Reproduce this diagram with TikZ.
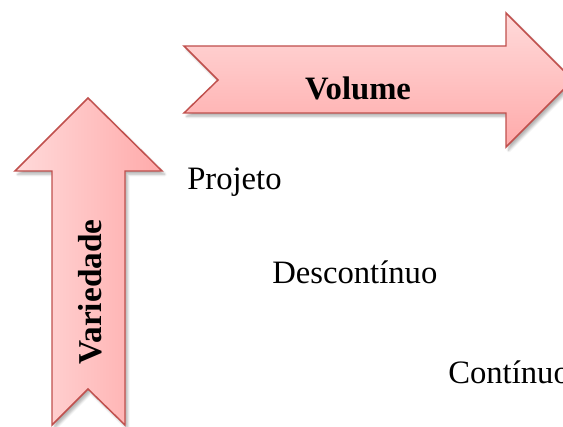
\documentclass[tikz,border=0pt]{standalone}
\usepackage{fontspec}
\setmainfont{Liberation Serif}
\usetikzlibrary{shadows.blur}
\definecolor{arrowedge}{HTML}{C0504D}
\definecolor{arrowlight}{HTML}{FFDADA}
\definecolor{arrowdark}{HTML}{FFAAAA}
\begin{document}
\begin{tikzpicture}[x=0.75pt,y=-0.75pt,
  bigarrow/.style={draw=arrowedge,line width=1.1pt,line join=miter,
    blur shadow={shadow xshift=2pt,shadow yshift=-2.5pt,shadow blur steps=6,shadow opacity=30}},
  label/.style={font=\fontsize{24.5}{28}\selectfont,inner sep=0pt}]
\useasboundingbox (0,0) rectangle (563,427);
\begin{scope}
\clip (0,0) rectangle (563,427);
% horizontal arrow (volume)
\path[bigarrow,top color=arrowlight,bottom color=arrowdark]
  (184,46) -- (506,46) -- (506,13) -- (573,80) -- (506,147) -- (506,113)
  -- (184,113) -- (218,80) -- cycle;
% vertical arrow (variety)
\path[bigarrow,left color=arrowlight,right color=arrowdark]
  (88,98) -- (162,171) -- (125,171) -- (125,425) -- (88,389) -- (52,425)
  -- (52,171) -- (15,171) -- cycle;
% labels; the last one runs past the right edge
\node[label,font=\fontsize{24.5}{28}\selectfont\bfseries] (vol) at (358,88) {Volume};
\node[label,font=\fontsize{25}{28}\selectfont\bfseries,rotate=90] (var) at (90,292) {Variedade};
\node[label,anchor=west] (proj) at (187,182) {Projeto};
\node[label,anchor=west] (desc) at (272,272) {Descontínuo};
\node[label,anchor=west] (cont) at (448,372) {Contínuo};
\end{scope}
\end{tikzpicture}
\end{document}
